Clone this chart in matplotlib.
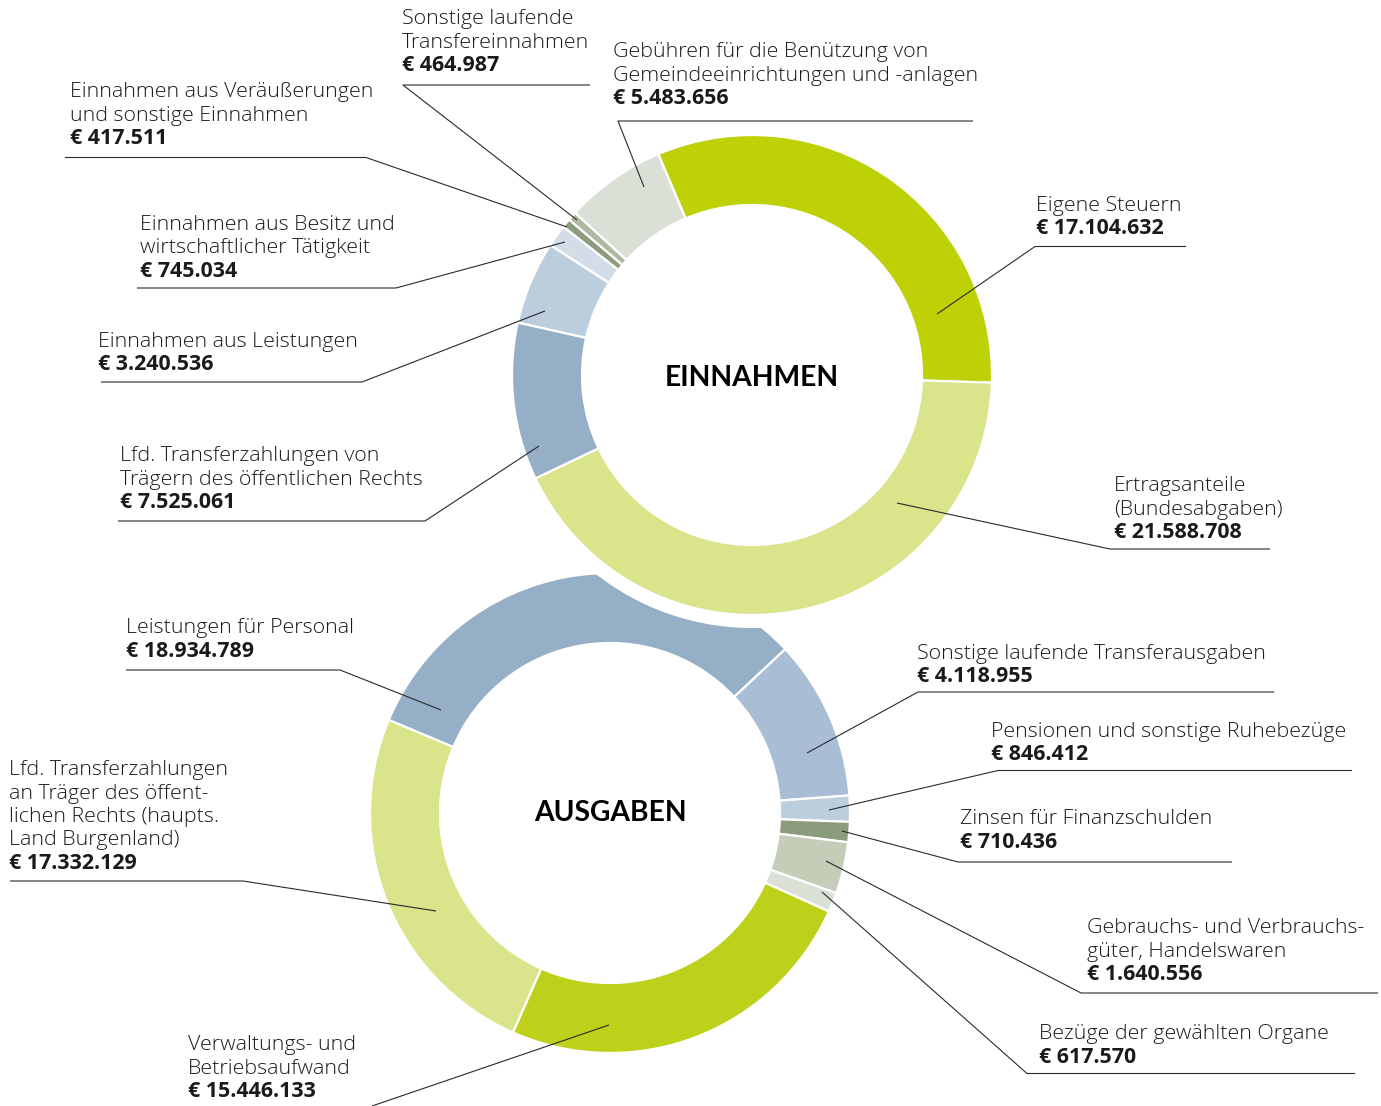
import matplotlib
matplotlib.use("Agg")
import matplotlib.pyplot as plt
from matplotlib.patches import Circle

W, H = 1381, 1106

# ---------------- data ----------------
ein_labels = [
    "Eigene Steuern",
    "Ertragsanteile\n(Bundesabgaben)",
    "Lfd. Transferzahlungen von\nTrägern des öffentlichen Rechts",
    "Einnahmen aus Leistungen",
    "Einnahmen aus Besitz und\nwirtschaftlicher Tätigkeit",
    "Einnahmen aus Veräußerungen\nund sonstige Einnahmen",
    "Sonstige laufende\nTransfereinnahmen",
    "Gebühren für die Benützung von\nGemeindeeinrichtungen und -anlagen",
]
ein_values = ["€ 17.104.632", "€ 21.588.708", "€ 7.525.061", "€ 3.240.536",
              "€ 745.034", "€ 417.511", "€ 464.987", "€ 5.483.656"]
# ring shares (%) as drawn in the picture
ein_share = [31.9, 42.4, 10.6, 5.6, 1.5, 0.6, 0.6, 6.8]
ein_colors = ["#bdd106", "#d9e48b", "#95afc6", "#bccede",
              "#d2dde8", "#8c9b7c", "#afb99f", "#dbe0d6"]

aus_labels = [
    "Leistungen für Personal",
    "Sonstige laufende Transferausgaben",
    "Pensionen und sonstige Ruhebezüge",
    "Zinsen für Finanzschulden",
    "Gebrauchs- und Verbrauchs-\ngüter, Handelswaren",
    "Bezüge der gewählten Organe",
    "Verwaltungs- und\nBetriebsaufwand",
    "Lfd. Transferzahlungen\nan Träger des öffent-\nlichen Rechts (haupts.\nLand Burgenland)",
]
aus_values = ["€ 18.934.789", "€ 4.118.955", "€ 846.412", "€ 710.436",
              "€ 1.640.556", "€ 617.570", "€ 15.446.133", "€ 17.332.129"]
aus_share = [31.7, 10.8, 1.75, 1.36, 3.47, 1.31, 24.9, 24.7]
aus_colors = ["#95afc6", "#a9bed4", "#bccede", "#8c9b7c",
              "#c4cdb8", "#dbe0d6", "#bdd11a", "#d9e48b"]

# ---------------- layout (pixel coords, y from top) ----------------
def fy(y):
    return H - y

top_c = (752, 375)
bot_c = (610, 813)
R_OUT, R_W = 240, 70

fig = plt.figure(figsize=(W / 100, H / 100), dpi=100)
ax = fig.add_axes([0, 0, 1, 1])

wp = dict(width=R_W, edgecolor="white", linewidth=1.6)
w_b, _ = ax.pie(aus_share, colors=aus_colors, startangle=157.2, counterclock=False,
                radius=R_OUT, center=(bot_c[0], fy(bot_c[1])), wedgeprops=wp)
for w in w_b:
    w.set_zorder(1)
ax.add_patch(Circle((top_c[0], fy(top_c[1])), 253, facecolor="white",
                    edgecolor="none", zorder=2))
w_t, _ = ax.pie(ein_share, colors=ein_colors, startangle=113, counterclock=False,
                radius=R_OUT, center=(top_c[0], fy(top_c[1])), wedgeprops=wp)
for w in w_t:
    w.set_zorder(3)

FONT = "Open Sans"
TXT = "#1a1a1a"
FS = 15.4
LS = 23.5

ax.text(top_c[0], fy(378), "EINNAHMEN", ha="center", va="center", fontsize=20.3,
        fontweight="bold", family="Lato", color="black", zorder=5)
ax.text(bot_c[0], fy(813), "AUSGABEN", ha="center", va="center", fontsize=20.3,
        fontweight="bold", family="Lato", color="black", zorder=5)

def label(x, base_val, text, value):
    lines = text.split("\n")
    n = len(lines)
    for i, ln in enumerate(lines):
        yb = base_val - (n - i) * LS
        ax.text(x, fy(yb), ln, ha="left", va="baseline", fontsize=FS,
                family=FONT, fontweight="light", color=TXT, zorder=5)
    ax.text(x, fy(base_val), value, ha="left", va="baseline", fontsize=FS,
            fontweight="bold", family=FONT, color=TXT, zorder=5)

def leader(pts):
    xs = [p[0] for p in pts]
    ys = [fy(p[1]) for p in pts]
    ax.plot(xs, ys, color="#2a2a2a", lw=0.8, zorder=6, solid_capstyle="butt")

# Einnahmen labels: (text x, value baseline, leader polyline)
ein_layout = [
    (1036, 234, [(1186, 246.5), (1035, 246.5), (937, 314)]),
    (1114, 538, [(1270, 549), (1110, 549), (897, 503)]),
    (120, 508, [(118, 521), (425, 521), (539, 446)]),
    (98, 370, [(101, 382), (362, 382), (545, 311)]),
    (140, 277, [(137, 288), (396, 288), (565, 242)]),
    (70, 144, [(65, 157.5), (366, 157.5), (567, 227)]),
    (402, 71, [(590, 85), (403, 85), (577, 220)]),
    (613, 104, [(973, 121), (618, 121), (644, 187)]),
]
for (x, yb, pts), t, v in zip(ein_layout, ein_labels, ein_values):
    label(x, yb, t, v)
    leader(pts)

aus_layout = [
    (126, 657, [(126, 670), (340, 670), (441, 710)]),
    (917, 682, [(1274, 692), (918, 692), (807, 753)]),
    (991, 760, [(1352, 770.5), (998, 770.5), (829, 810)]),
    (960, 848, [(1232, 862), (958, 862), (842, 831)]),
    (1087, 980, [(1378, 993), (1081, 993), (826, 861)]),
    (1039, 1063, [(1355, 1073.5), (1027, 1073.5), (822, 892)]),
    (188, 1097, [(372, 1106), (609, 1025)]),
    (9, 869, [(10, 881), (243, 881), (436, 911)]),
]
for (x, yb, pts), t, v in zip(aus_layout, aus_labels, aus_values):
    label(x, yb, t, v)
    leader(pts)

ax.set_xlim(0, W)
ax.set_ylim(0, H)
ax.set_aspect("equal")
ax.set_axis_off()
fig.savefig("out.png", dpi=100, facecolor="white")
